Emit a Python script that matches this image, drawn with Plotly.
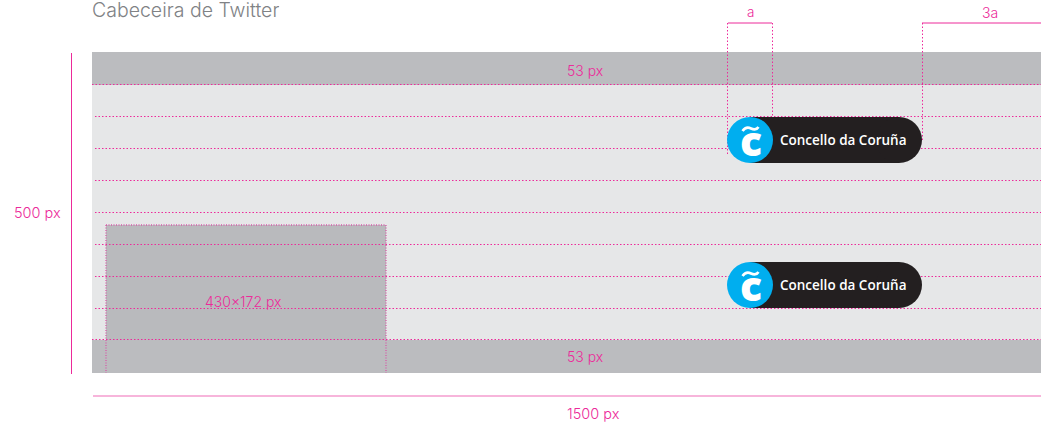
import plotly.graph_objects as go

# Diagram geometry, in canvas pixels
band_rows = [[52, 85], [340, 373]]
band_left = 92
page_right = 1041
body_rows = [85, 340]
guide_rows = [84.5, 116.5, 148.5, 180.5, 212.5, 244.5, 276.5, 308.5, 339.5]
guide_starts = [92, 95, 95, 95, 95, 95, 95, 95, 92]
photo_cols = [106, 386]
photo_rows = [225, 373]
pill_rows = [[117, 163], [262, 308]]
pill_cols = [727, 922]
labels = ["Cabeceira de Twitter", "a", "3a", "53 px", "53 px", "500 px", "430x172 px", "1500 px"]
label_x = [90, 750, 990, 585, 585, 37, 243, 593]
label_y = [9.5, 12, 12, 70, 356, 212, 301, 413.5]
label_sizes = [19.5, 13.5, 14, 14, 14, 14.5, 14, 14.5]
button_text = "Concello da Coruña"

PINK = "#ec2a9a"
GREY = "#bbbcbf"
LIGHT = "#e6e7e8"
PHOTO = "#b9babd"
DARK = "#231f20"
BLUE = "#00aeef"

shapes = []


def rect(x0, x1, y0, y1, color):
    shapes.append(dict(type="rect", x0=x0, x1=x1, y0=y0, y1=y1, fillcolor=color, line_width=0))


def seg(x0, x1, y0, y1, color=PINK, width=1, dash="solid"):
    shapes.append(dict(type="line", x0=x0, x1=x1, y0=y0, y1=y1,
                       line=dict(color=color, width=width, dash=dash)))


rect(band_left, page_right, body_rows[0], body_rows[1], LIGHT)
for top, bottom in band_rows:
    rect(band_left, page_right, top, bottom, GREY)
rect(photo_cols[0], photo_cols[1], photo_rows[0], band_rows[1][0], PHOTO)

for row, start in zip(guide_rows, guide_starts):
    seg(start, page_right, row, row, dash="1.5px,2px")

seg(photo_cols[0], photo_cols[1], photo_rows[0], photo_rows[0], dash="1px,1.5px", color="#d65aa8", width=1.5)
for col in photo_cols:
    seg(col, col, photo_rows[0], photo_rows[1], dash="1px,1.5px", color="#d65aa8", width=1.3)

seg(727.5, 727.5, 23, 155, dash="1.5px,2px")
seg(772.5, 772.5, 23, 117, dash="1.5px,2px")
seg(922.5, 922.5, 23, 140, dash="1.5px,2px")
seg(728, 772, 23, 23)
seg(922, page_right, 23, 23)
seg(71.5, 71.5, 53, 374)
seg(93, page_right, 396, 396, color="#f06cb8", width=1.2)

for top, bottom in pill_rows:
    mid = (top + bottom) / 2
    radius = (bottom - top) / 2
    rect(pill_cols[0] + radius, pill_cols[1] - radius, top, bottom, DARK)
    shapes.append(dict(type="circle", x0=pill_cols[1] - 2 * radius, x1=pill_cols[1],
                       y0=top, y1=bottom, fillcolor=DARK, line_width=0))
    shapes.append(dict(type="circle", x0=pill_cols[0], x1=pill_cols[0] + 2 * radius,
                       y0=top, y1=bottom, fillcolor=BLUE, line_width=0))
    shapes.append(dict(type="path",
                       path=f"M 742.5 {mid-9} Q 746 {mid-14} 751 {mid-11.5} T 758.5 {mid-13}",
                       line=dict(color="white", width=2.6)))

annotations = []
for i, (text, x, y, size) in enumerate(zip(labels, label_x, label_y, label_sizes)):
    title = i == 0
    extra = dict(height=17, valign="middle") if title else {}
    annotations.append(dict(
        x=x, y=y, text=text, showarrow=False, xref="x", yref="y",
        xanchor="left" if title else "center", yanchor="middle",
        font=dict(family="Inter", size=size, weight=300,
                  color="#808285" if title else PINK), **extra))

for top, bottom in pill_rows:
    mid = (top + bottom) / 2
    annotations.append(dict(x=750.5, y=mid, text="c", showarrow=False, xref="x", yref="y",
                            xanchor="center", yanchor="middle",
                            font=dict(family="Open Sans", size=41, color="white", weight=800)))
    annotations.append(dict(x=778, y=mid - 0.5, text=button_text, showarrow=False, xref="x", yref="y",
                            xanchor="left", yanchor="middle",
                            font=dict(family="Open Sans", size=13.5, color="white", weight=600)))

fig = go.Figure()
fig.update_layout(
    width=1041, height=425, margin=dict(l=0, r=0, t=0, b=0),
    paper_bgcolor="white", plot_bgcolor="white", showlegend=False,
    xaxis=dict(range=[0, 1041], visible=False, fixedrange=True),
    yaxis=dict(range=[425, 0], visible=False, fixedrange=True),
    shapes=shapes, annotations=annotations,
)
fig.write_html("out.html", config={"displayModeBar": False},
               post_script="document.body.style.margin='0';document.body.style.overflow='hidden';")
